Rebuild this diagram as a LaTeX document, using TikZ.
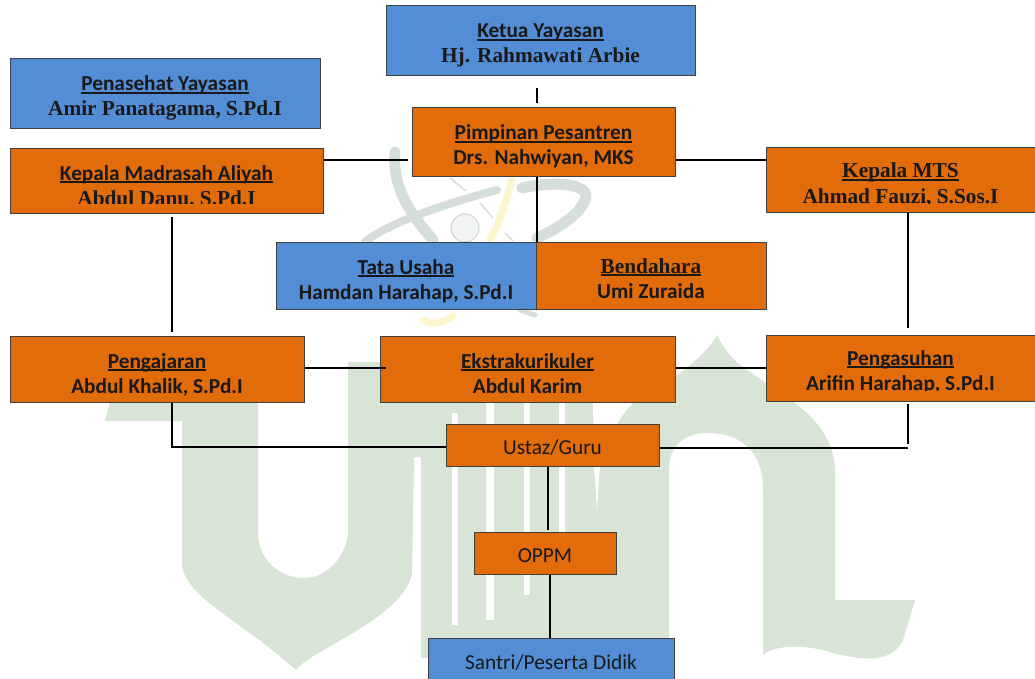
\documentclass[tikz,border=0pt]{standalone}
\usepackage{fontspec}
\setmainfont{Carlito}
\newfontfamily\timesfont{Liberation Serif}
\definecolor{boxorange}{HTML}{E26B0A}
\definecolor{boxblue}{HTML}{538DD5}
\definecolor{markgreen}{HTML}{D8E4D5}
\definecolor{markgray}{HTML}{D6DEDA}
\definecolor{markyellow}{HTML}{FBF6CC}
\newsavebox{\headbox}
\newcommand{\headline}[2][28pt]{\rule{0pt}{#1}\sbox{\headbox}{#2}\rlap{\rule[-3pt]{\wd\headbox}{1.8pt}}\usebox{\headbox}}
\newcommand{\subline}[1]{\rule[-7pt]{0pt}{7pt}#1}
\newcommand{\lowered}[2][-3pt]{\raisebox{#1}[\height][\depth]{#2}}
\tikzset{
	orgbox/.style={draw=black!75, line width=1pt, align=center, inner sep=0pt, text=black!90,
		font=\fontsize{21.3}{25}\selectfont\bfseries},
	orangebox/.style={orgbox, fill=boxorange},
	bluebox/.style={orgbox, fill=boxblue},
	plainbox/.style={font=\fontsize{21.3}{25}\selectfont},
	link/.style={line width=2pt, black},
	swoosh/.style={line width=11pt, markgray, line cap=round},
}
\begin{document}
\begin{tikzpicture}[x=1pt, y=-1pt]
	\useasboundingbox (0,0) rectangle (1035,679);
	% watermark
	\fill[markgreen] (110,402) -- (105,421) -- (182,421) -- (182,567)
		.. controls (190,600) and (240,620) .. (296,670)
		.. controls (310,650) and (400,620) .. (412,575) -- (414,457) -- (421,457)
		-- (421,658) -- (669,658) -- (669,470)
		.. controls (669,445) and (685,433) .. (707,433)
		.. controls (740,433) and (763,450) .. (763,490) -- (763,655)
		.. controls (775,645) and (800,645) .. (823,650)
		.. controls (850,658) and (890,668) .. (903,640) -- (915,600) -- (835,600) -- (835,470)
		.. controls (833,420) and (790,400) .. (740,365)
		.. controls (728,355) and (722,345) .. (717,335)
		.. controls (712,345) and (702,355) .. (690,365)
		.. controls (670,385) and (640,385) .. (617,424)
		-- (605,403) -- (400,403) -- (400,362) -- (348,362) -- (348,533)
		.. controls (345,560) and (325,578) .. (304,578)
		.. controls (280,578) and (258,560) .. (258,533) -- (258,402) -- cycle;
	\foreach \slitx/\slitw/\slittop/\slitend in {455/6/413/625, 490/8/403/620, 527/6/403/595, 562/6/403/575}
		\fill[white] (\slitx-\slitw/2,\slittop) rectangle (\slitx+\slitw/2,\slitend);
	\fill[white] (593,403) -- (630,403) -- (617,424) -- (600,466) -- (597,510) -- (594,466) -- cycle;
	% emblem
	\draw[swoosh] (395,152) .. controls (392,190) and (412,215) .. (433,240);
	\draw[swoosh, line width=8pt] (365,242) .. controls (385,225) and (440,205) .. (497,190);
	\draw[swoosh] (522,188) .. controls (560,180) and (592,185) .. (585,200)
		.. controls (580,215) and (555,230) .. (537,238);
	\draw[swoosh, line width=5pt] (520,310) -- (535,315);
	\draw[markyellow, line width=7pt, line cap=round] (512,180) .. controls (505,205) and (498,225) .. (490,240);
	\draw[markyellow, line width=7pt, line cap=round] (423,320) .. controls (435,326) and (445,322) .. (453,316);
	\draw[markgray, line width=1.5pt] (450,178) -- (466,191);
	\draw[markgray, line width=1.5pt] (480,203) -- (493,218);
	\draw[markgray, line width=1.5pt] (505,233) -- (513,241);
	\draw[markgray, line width=1.5pt, fill=markgray!30] (465,228) circle (14);
	% nodes
	\node[bluebox, minimum width=309pt, minimum height=70pt] (ketua) at (540.5,41)
		{\headline[26pt]{Ketua Yayasan}\\\subline{\timesfont Hj. Rahmawati Arbie}};
	\node[bluebox, minimum width=310pt, minimum height=70pt] (penasehat) at (165,94)
		{\headline[26pt]{Penasehat Yayasan}\\\subline{\timesfont Amir Panatagama, S.Pd.I}};
	\node[orangebox, minimum width=263pt, minimum height=69pt] (pimpinan) at (543.5,142.5)
		{\headline[27pt]{Pimpinan Pesantren}\\\subline{Drs. Nahwiyan, MKS}};
	\node[orangebox, minimum width=313pt, minimum height=64pt] (madrasah) at (166.5,181)
		{\headline[30pt]{Kepala Madrasah Aliyah}\\\subline{\timesfont Abdul Danu, S.Pd.I}};
	\node[orangebox, minimum width=269pt, minimum height=64pt] (mts) at (900.5,180)
		{{\timesfont\headline[28pt]{Kepala MTS}}\\\subline{\timesfont Ahmad Fauzi, S.Sos.I}};
	\node[bluebox, minimum width=260pt, minimum height=67pt] (tatausaha) at (406,275.5)
		{\headline[29pt]{Tata Usaha}\\\subline{Hamdan Harahap, S.Pd.I}};
	\node[orangebox, minimum width=230pt, minimum height=67pt] (bendahara) at (651,275.5)
		{\timesfont\headline[27pt]{Bendahara}\\\subline{Umi Zuraida}};
	\node[orangebox, minimum width=294pt, minimum height=66pt] (pengajaran) at (157,369)
		{\headline[30pt]{Pengajaran}\\\subline{Abdul Khalik, S.Pd.I}};
	\node[orangebox, minimum width=295pt, minimum height=66pt] (ekstra) at (527.5,369)
		{\headline[30pt]{Ekstrakurikuler}\\\subline{Abdul Karim}};
	\node[orangebox, minimum width=269pt, minimum height=66pt] (pengasuhan) at (900.5,368)
		{\headline[26pt]{Pengasuhan}\\\subline{Arifin Harahap, S.Pd.I}};
	\node[orangebox, plainbox, minimum width=213pt, minimum height=42pt] (ustaz) at (552.5,445) {\lowered{Ustaz/Guru}};
	\node[orangebox, plainbox, minimum width=142pt, minimum height=42pt] (oppm) at (545,553) {\lowered{OPPM}};
	\node[bluebox, plainbox, minimum width=246pt, minimum height=46pt] (santri) at (551,661) {\lowered[-2pt]{Santri/Peserta Didik}};
	% text cut by the box bottom
	\foreach \cutxa/\cutya/\cutxb/\cutyb in {11/203.5/322/212, 767/204/1034/211, 11/396/303/401, 767/390.5/1034/400}
		\fill[boxorange] (\cutxa,\cutya) rectangle (\cutxb,\cutyb);
	% connectors
	\coordinate (mainrun) at (536.5,160);
	\coordinate (midrun) at (0,368);
	\coordinate (leftrun) at (171.5,447);
	\coordinate (rightrun) at (908,448);
	\coordinate (rightstop) at (908,444);
	\draw[link, shorten <=12pt, shorten >=4pt] (ketua.south -| mainrun) -- (pimpinan.north -| mainrun);
	\draw[link] (pimpinan.south -| mainrun) -- (tatausaha.north east);
	\draw[link, shorten >=4pt] (madrasah.east |- mainrun) -- (pimpinan.west |- mainrun);
	\draw[link] (pimpinan.east |- mainrun) -- (mts.west |- mainrun);
	\draw[link, shorten <=3pt, shorten >=4pt] (madrasah.south -| leftrun) -- (pengajaran.north -| leftrun);
	\draw[link, shorten >=7pt] (mts.south -| rightrun) -- (pengasuhan.north -| rightrun);
	\draw[link] (pengajaran.east |- midrun) -- ([xshift=6pt]ekstra.west |- midrun);
	\draw[link] (ekstra.east |- midrun) -- (pengasuhan.west |- midrun);
	\draw[link, line join=miter] (pengajaran.south -| leftrun) -- (leftrun) -- (ustaz.west |- leftrun);
	\draw[link, shorten <=2pt] (pengasuhan.south -| rightstop) -- (rightstop);
	\draw[link] (ustaz.east |- rightrun) -- (rightrun);
	\draw[link] (ustaz.south -| 548,0) -- (548,530);
	\draw[link] (oppm.south -| 550,0) -- (santri.north -| 550,0);
\end{tikzpicture}
\end{document}
